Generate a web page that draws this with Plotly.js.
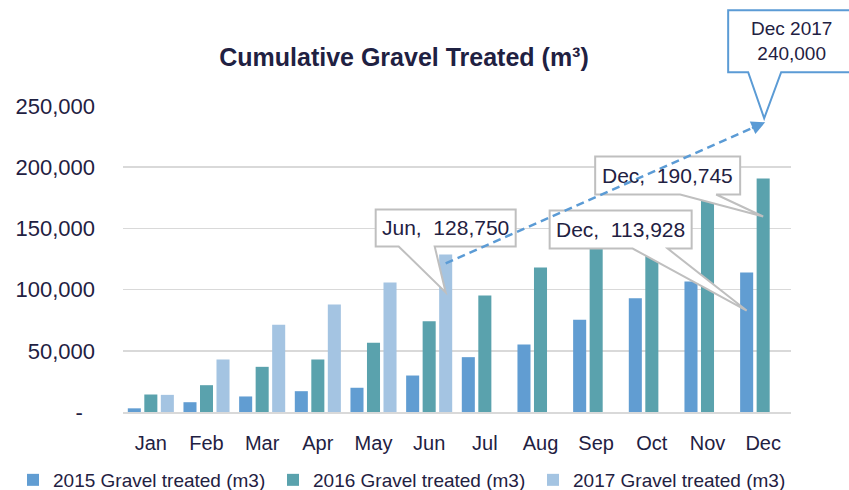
<!DOCTYPE html>
<html>
<head>
<meta charset="utf-8">
<script src="https://cdn.plot.ly/plotly-3.0.1.min.js"></script>
<style>html,body{margin:0;padding:0;background:#fff;}#chart{width:849px;height:490px;}</style>
</head>
<body>
<div id="chart"></div>
<script>
// ---------- data ----------
const months = ['Jan','Feb','Mar','Apr','May','Jun','Jul','Aug','Sep','Oct','Nov','Dec'];
const gravel2015 = [3000, 8000, 12700, 17000, 19800, 29800, 44800, 55100, 75300, 93000, 106600, 113928];
const gravel2016 = [14300, 21900, 36900, 42900, 56500, 74200, 95200, 118000, 140000, 157000, 176000, 190745];
const gravel2017 = [14000, 42900, 71200, 87800, 105800, 128750, null, null, null, null, null, null];
const seriesNames = ['2015 Gravel treated (m3)', '2016 Gravel treated (m3)', '2017 Gravel treated (m3)'];
const yTickVals = [0, 50000, 100000, 150000, 200000, 250000];
const yTickText = ['-\u00a0\u00a0', '50,000', '100,000', '150,000', '200,000', '250,000'];
const projectionLabel = 'Dec 2017';
const projectionMonth = 'Dec';
const projectionValue = 240000;

// ---------- style ----------
const FONT = 'Liberation Sans, Arial, sans-serif';
const TXT = '#1f2142';
const colors = ['#619dd2', '#5aa2ad', '#a4c4e2'];
const PL = 123, PR = 58, PT = 106, PB = 78, W = 849, H = 490;
const PW = W - PL - PR, PH = H - PT - PB;
const BARGAP = 0.11, GROUPGAP = 0.21;
const YMAX = yTickVals[yTickVals.length - 1];

const catPx = PW / months.length;
const slotPx = catPx * (1 - BARGAP) / 3;
const xPx = (i, slot) => PL + (i + 0.5) * catPx + (slot - 1) * slotPx;
const yPx = v => PT + PH - v / YMAX * PH;
const px2x = px => (px - PL) / PW;
const px2y = py => (PT + PH - py) / PH;
const fmt = v => v.toLocaleString('en-US');

const traces = [gravel2015, gravel2016, gravel2017].map((vals, k) => ({
  type: 'bar', x: months, y: vals, name: seriesNames[k],
  marker: {color: colors[k]}, hoverinfo: 'skip'
}));

// callouts: which bar they point at, and where their box sits (pixel offsets from the tip)
const callouts = [
  {series: gravel2017, slot: 2, idx: 5, box: [-70, 70, -83, -46], tail: [-47, -11]},
  {series: gravel2015, slot: 0, idx: 11, box: [-197, -55, -100, -62], tail: [-114, -79]},
  {series: gravel2016, slot: 1, idx: 11, box: [-168, -23, -60, -22], tail: [-83, -47]}
];

const shapes = [];
const annotations = [];
function calloutPath(tx, ty, box, tail) {
  const L = tx + box[0], R = tx + box[1], T = ty + box[2], B = ty + box[3];
  const pts = [[L, T], [R, T], [R, B], [tx + tail[1], B], [tx, ty], [tx + tail[0], B], [L, B]];
  return 'M' + pts.map(p => px2x(p[0]).toFixed(5) + ',' + px2y(p[1]).toFixed(5)).join('L') + 'Z';
}
callouts.forEach(c => {
  const v = c.series[c.idx];
  const tx = xPx(c.idx, c.slot), ty = yPx(v) + 38;
  shapes.push({type: 'path', xref: 'paper', yref: 'paper', layer: 'above',
    path: calloutPath(tx, ty, c.box, c.tail), fillcolor: '#ffffff',
    line: {color: '#bfbfbf', width: 2}});
  annotations.push({xref: 'paper', yref: 'paper', showarrow: false,
    x: px2x(tx + (c.box[0] + c.box[1]) / 2), y: px2y(ty + (c.box[2] + c.box[3]) / 2),
    xanchor: 'center', yanchor: 'middle',
    text: months[c.idx] + ',\u00a0\u00a0' + fmt(v),
    font: {family: FONT, size: 21, color: TXT}});
});

// projection: dashed arrow from Jun 2017 bar to Dec 2017 target
const jIdx = gravel2017.findIndex((v, i) => v !== null && gravel2017[i + 1] === null);
const sx = xPx(jIdx, 2), sy = yPx(gravel2017[jIdx]) + 9;
const pIdx = months.indexOf(projectionMonth);
const ex = PL + (pIdx + 0.5) * catPx + 2, ey = yPx(projectionValue) + 4;
const dx = ex - sx, dy = ey - sy, len = Math.hypot(dx, dy);
const ux = dx / len, uy = dy / len;
// Dec 2017 callout (blue)
const ptx = ex - 1, pty = yPx(projectionValue);
shapes.push({type: 'path', xref: 'paper', yref: 'paper', layer: 'above',
  path: calloutPath(ptx, pty, [-36, 100, -108, -46], [-16, 17]), fillcolor: '#ffffff',
  line: {color: '#5b9bd5', width: 2}});
annotations.push({xref: 'paper', yref: 'paper', showarrow: false,
  x: px2x(ptx + 27), y: px2y(pty - 77), xanchor: 'center', yanchor: 'middle',
  text: projectionLabel + '<br>' + fmt(projectionValue),
  font: {family: FONT, size: 19, color: TXT}});
// dashed line
shapes.push({type: 'line', xref: 'paper', yref: 'paper', layer: 'above',
  x0: px2x(sx), y0: px2y(sy), x1: px2x(ex - ux * 10), y1: px2y(ey - uy * 10),
  line: {color: '#5b9bd5', width: 2.5, dash: '8px,5px'}});
// arrowhead
annotations.push({xref: 'paper', yref: 'paper', x: px2x(ex), y: px2y(ey), text: '',
  showarrow: true, arrowhead: 2, arrowsize: 1.1, arrowwidth: 2.5, arrowcolor: '#5b9bd5',
  ax: -ux * 16, ay: -uy * 16, standoff: 0});

const layout = {
  width: W, height: H,
  margin: {l: PL, r: PR, t: PT, b: PB, autoexpand: false},
  paper_bgcolor: '#ffffff', plot_bgcolor: '#ffffff',
  barmode: 'group', bargap: BARGAP, bargroupgap: GROUPGAP,
  font: {family: FONT, color: TXT},
  title: {text: 'Cumulative Gravel Treated (m³)', font: {family: FONT, size: 25, color: TXT, weight: 700},
    xref: 'container', yref: 'container', x: 404 / W, y: 1 - 57 / H, xanchor: 'center', yanchor: 'middle'},
  xaxis: {type: 'category', showgrid: false, showline: true, linecolor: '#d9d9d9', linewidth: 2,
    ticks: '', tickfont: {family: FONT, size: 20, color: TXT}, ticklabelstandoff: 12, fixedrange: true},
  yaxis: {range: [0, YMAX], tickvals: yTickVals, ticktext: yTickText, showgrid: true,
    gridcolor: '#d9d9d9', gridwidth: 1.5, zeroline: false, showline: false, ticks: '',
    tickfont: {family: FONT, size: 22, color: TXT}, ticklabelstandoff: 27, fixedrange: true},
  legend: {orientation: 'h', x: (13 - PL) / PW, xanchor: 'left', y: (PT + PH - 480) / PH, yanchor: 'middle',
    entrywidth: 215, entrywidthmode: 'pixels', font: {family: FONT, size: 19, color: TXT},
    bgcolor: 'rgba(0,0,0,0)', traceorder: 'normal'},
  shapes: shapes, annotations: annotations,
  showlegend: true
};
Plotly.newPlot('chart', traces, layout, {displayModeBar: false, staticPlot: true});
</script>
</body>
</html>
